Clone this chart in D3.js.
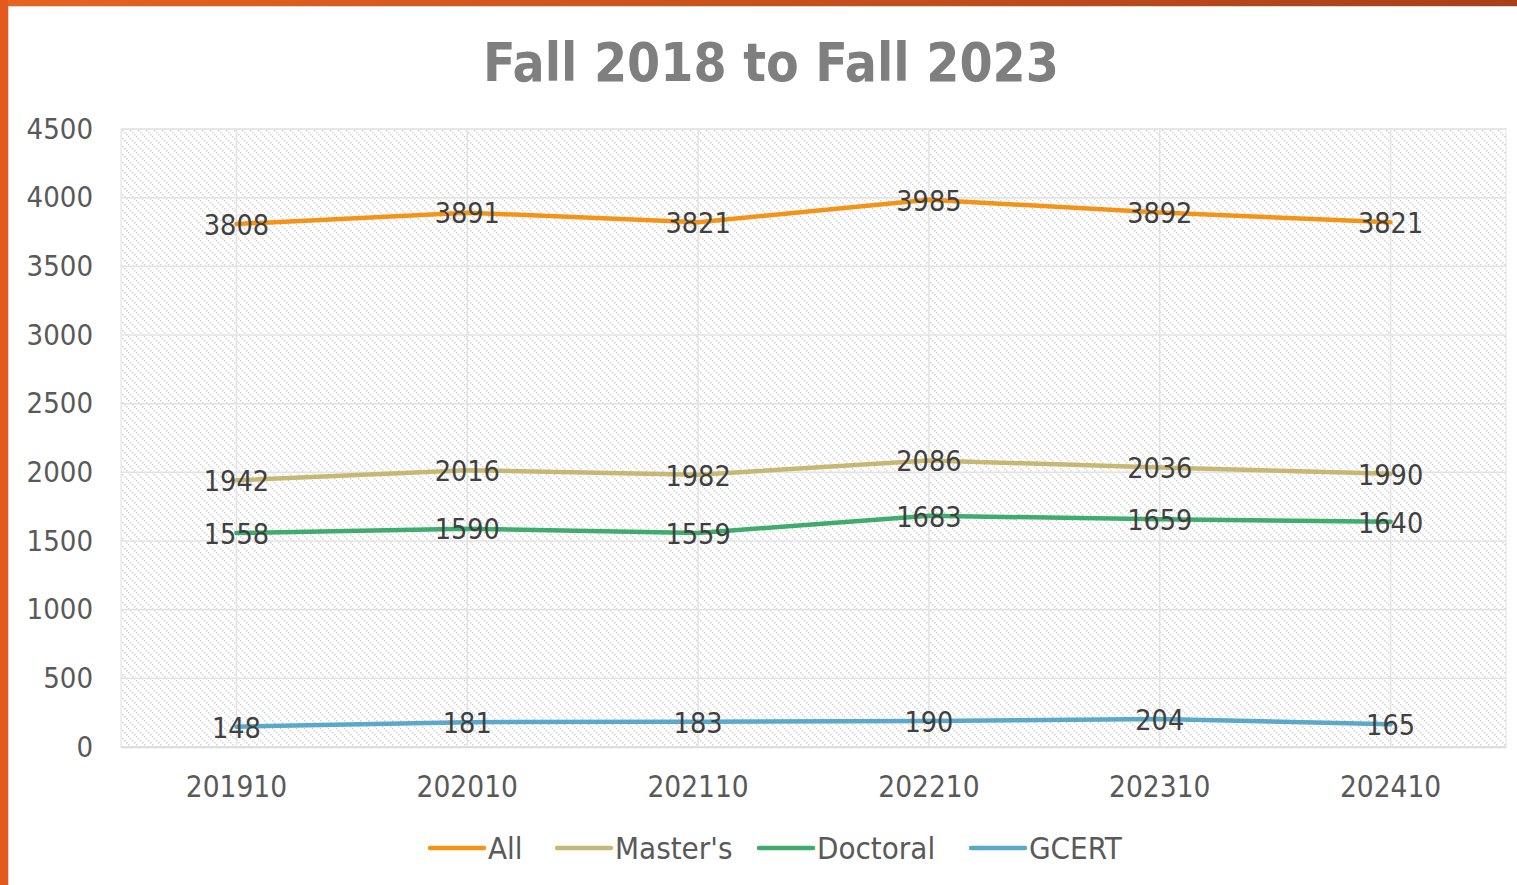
<!DOCTYPE html>
<html>
<head>
<meta charset="utf-8">
<script src="https://cdn.jsdelivr.net/npm/d3@7"></script>
<style>
	body { margin: 0; background: #fff; }
	svg text { font-family: "DejaVu Sans Condensed", "DejaVu Sans", sans-serif; }
</style>
</head>
<body>
<svg id="chart" width="1517" height="885"></svg>
<script>
// chart data
const terms = ["201910", "202010", "202110", "202210", "202310", "202410"];
const seriesNames = ["All", "Master's", "Doctoral", "GCERT"];
const seriesColors = ["#f39419", "#c6b873", "#3fab6c", "#5aa9c8"];
const allValues = [3808, 3891, 3821, 3985, 3892, 3821];
const mastersValues = [1942, 2016, 1982, 2086, 2036, 1990];
const doctoralValues = [1558, 1590, 1559, 1683, 1659, 1640];
const gcertValues = [148, 181, 183, 190, 204, 165];
const yTicks = [0, 500, 1000, 1500, 2000, 2500, 3000, 3500, 4000, 4500];

const series = [allValues, mastersValues, doctoralValues, gcertValues];

const svg = d3.select("#chart");
const W = 1517, H = 885;
const plot = { left: 121, right: 1506, top: 129, bottom: 747 };

// dotted diagonal hatch for the plot background
const defs = svg.append("defs");
const pat = defs.append("pattern")
	.attr("id", "hatch")
	.attr("patternUnits", "userSpaceOnUse")
	.attr("width", 8).attr("height", 8);
pat.append("rect").attr("width", 8).attr("height", 8).attr("fill", "#fff");
pat.selectAll("rect.dot").data([0, 2, 4, 6]).join("rect")
	.attr("class", "dot")
	.attr("x", d => d).attr("y", d => d)
	.attr("width", 1.5).attr("height", 1.5)
	.attr("fill", "#d4d4d4");

const grad = defs.append("linearGradient").attr("id", "topEdge");
grad.append("stop").attr("offset", "0%").attr("stop-color", "#e8631f");
grad.append("stop").attr("offset", "100%").attr("stop-color", "#a8401a");

// frame edges
svg.append("rect").attr("x", 0).attr("y", 0).attr("width", W).attr("height", 6).attr("fill", "url(#topEdge)");
svg.append("rect").attr("x", 0).attr("y", 0).attr("width", 8).attr("height", H).attr("fill", "#e35a1c");
svg.append("line").attr("x1", 8.5).attr("x2", 8.5).attr("y1", 6).attr("y2", H).attr("stroke", "#d8d8d8");
svg.append("line").attr("x1", 8).attr("x2", W).attr("y1", 6.5).attr("y2", 6.5).attr("stroke", "#d8d8d8");

// scales
const x = d3.scaleBand().domain(terms).range([plot.left, plot.right]);
const y = d3.scaleLinear().domain([0, 4500]).range([plot.bottom, plot.top]);
const cx = d => x(d) + x.bandwidth() / 2;

svg.append("rect")
	.attr("x", plot.left).attr("y", plot.top)
	.attr("width", plot.right - plot.left).attr("height", plot.bottom - plot.top)
	.attr("fill", "url(#hatch)")
	.attr("stroke", "#e0e0e0");

// gridlines
svg.append("g").selectAll("line").data(yTicks).join("line")
	.attr("x1", plot.left).attr("x2", plot.right)
	.attr("y1", d => y(d)).attr("y2", d => y(d))
	.attr("stroke", "#e3e3e3").attr("stroke-width", 1.5);
svg.append("g").selectAll("line").data(terms).join("line")
	.attr("x1", cx).attr("x2", cx)
	.attr("y1", plot.top).attr("y2", plot.bottom)
	.attr("stroke", "#e3e3e3").attr("stroke-width", 1.5);

// axes
const yAxis = svg.append("g")
	.attr("transform", `translate(${plot.left},0)`)
	.call(d3.axisLeft(y).tickValues(yTicks).tickFormat(d3.format("d")).tickSize(0).tickPadding(28));
yAxis.select(".domain").remove();
yAxis.selectAll("text").attr("font-size", 29).attr("fill", "#595959")
	.attr("font-family", "DejaVu Sans Condensed");

const xAxis = svg.append("g")
	.attr("transform", `translate(0,${plot.bottom})`)
	.call(d3.axisBottom(x).tickSize(0).tickPadding(29));
xAxis.select(".domain").attr("stroke", "#d9d9d9").attr("stroke-width", 1.5);
xAxis.selectAll("text").attr("font-size", 29.5).attr("fill", "#595959")
	.attr("font-family", "DejaVu Sans Condensed");

// lines
const line = d3.line().x((v, i) => cx(terms[i])).y(v => y(v));
svg.append("g").selectAll("path").data(series).join("path")
	.attr("d", line)
	.attr("fill", "none")
	.attr("stroke", (d, i) => seriesColors[i])
	.attr("stroke-width", 4.5)
	.attr("stroke-linecap", "round")
	.attr("stroke-linejoin", "round");

// data labels, centered on each point
series.forEach((vals) => {
	svg.append("g").selectAll("text").data(vals).join("text")
		.attr("x", (v, i) => cx(terms[i]))
		.attr("y", v => y(v))
		.attr("dy", "0.38em")
		.attr("text-anchor", "middle")
		.attr("font-size", 28.5)
		.attr("fill", "#404040")
		.text(v => v);
});

// title
svg.append("text")
	.attr("x", 771).attr("y", 81)
	.attr("text-anchor", "middle")
	.attr("font-size", 53)
	.attr("font-weight", "bold")
	.attr("fill", "#7f7f7f")
	.text("Fall 2018 to Fall 2023");

// legend
const legendX = [430, 557, 759, 971];
const legend = svg.append("g").selectAll("g").data(seriesNames).join("g")
	.attr("transform", (d, i) => `translate(${legendX[i]},848)`);
legend.append("line")
	.attr("x1", 0).attr("x2", 54).attr("y1", 0).attr("y2", 0)
	.attr("stroke", (d, i) => seriesColors[i])
	.attr("stroke-width", 4.5)
	.attr("stroke-linecap", "round");
legend.append("text")
	.attr("x", 58).attr("dy", "0.36em")
	.attr("font-size", 31)
	.attr("fill", "#595959")
	.text(d => d);
</script>
</body>
</html>
